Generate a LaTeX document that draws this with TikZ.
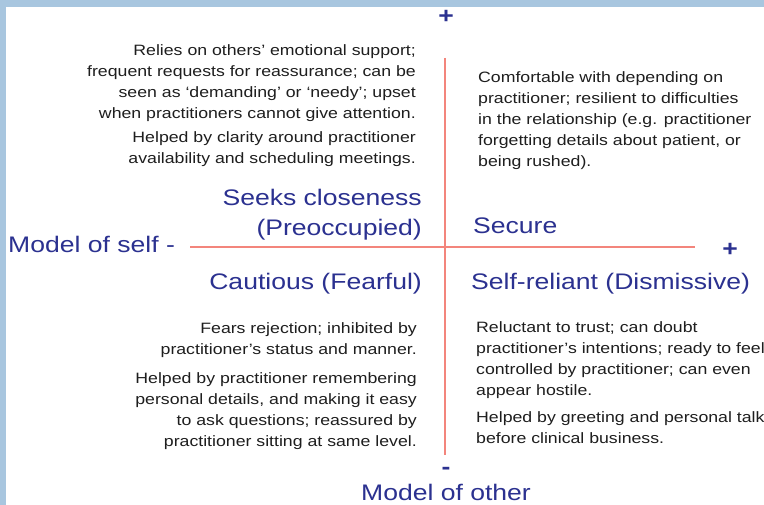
\documentclass[tikz,border=0pt]{standalone}
\usepackage{fontspec}
\setmainfont{Liberation Sans}[FakeStretch=1.18]
\definecolor{frameblue}{HTML}{A8C6DF}
\definecolor{axisred}{HTML}{F3857C}
\definecolor{labelblue}{HTML}{2B3190}
\definecolor{bodygray}{HTML}{1E1E1E}
\begin{document}
\begin{tikzpicture}[x=1pt,y=-1pt,
	quadlabel/.style={font=\fontsize{22.5}{28}\selectfont, text=labelblue, inner sep=0pt},
	signlabel/.style={quadlabel, font=\fontsize{22.5}{28}\selectfont\bfseries},
	bodytext/.style={font=\fontsize{15}{21}\selectfont, text=bodygray, inner sep=0pt},
	axisline/.style={axisred, line width=1.3pt}]
	\useasboundingbox (0,0) rectangle (764,505);
	\fill[white] (0,0) rectangle (764,505);
	\fill[frameblue] (0,0) rectangle (764,7);
	\fill[frameblue] (0,0) rectangle (6,505);
	% axes
	\coordinate (axtop) at (445,58);
	\coordinate (axbottom) at (445,455);
	\coordinate (axleft) at (190,247);
	\coordinate (axright) at (695,247);
	\draw[axisline] (axtop) -- (axbottom);
	\draw[axisline] (axleft) -- (axright);
	% axis labels
	\node[quadlabel, anchor=base west] (selfaxis) at (8,253) {Model of self -};
	\node[signlabel] (selfplus) at (730,250) {+};
	\node[signlabel] (otherplus) at (446,17) {+};
	\node[signlabel] (otherminus) at (446,471) {-};
	\node[quadlabel, anchor=base] (otheraxis) at (446,500) {Model of other};
	% quadrant names
	\node[quadlabel, anchor=base east] (seeks) at (422,206) {Seeks closeness};
	\node[quadlabel, anchor=base east] (preocc) at (422,236) {(Preoccupied)};
	\node[quadlabel, anchor=base west] (secure) at (473,234) {Secure};
	\node[quadlabel, anchor=base east] (fearful) at (422,290) {Cautious (Fearful)};
	\node[quadlabel, anchor=base west] (dismissive) at (471,290) {Self-reliant (Dismissive)};
	% quadrant texts
	\node[bodytext, anchor=north east, align=right] (preocctext) at (416,44) {Relies on others' emotional support;\\ frequent requests for reassurance; can be\\ seen as `demanding' or `needy'; upset\\ when practitioners cannot give attention.\\[3pt] Helped by clarity around practitioner\\ availability and scheduling meetings.};
	\node[bodytext, anchor=north west, align=left] (securetext) at (478,71) {Comfortable with depending on\\ practitioner; resilient to difficulties\\ in the relationship (e.g. practitioner\\ forgetting details about patient, or\\ being rushed).};
	\node[bodytext, anchor=north east, align=right] (fearfultext) at (417,322) {Fears rejection; inhibited by\\ practitioner's status and manner.\\[8pt] Helped by practitioner remembering\\ personal details, and making it easy\\ to ask questions; reassured by\\ practitioner sitting at same level.};
	\node[bodytext, anchor=north west, align=left] (dismissivetext) at (476,321) {Reluctant to trust; can doubt\\ practitioner's intentions; ready to feel\\ controlled by practitioner; can even\\ appear hostile.\\[6pt] Helped by greeting and personal talk\\ before clinical business.};
\end{tikzpicture}
\end{document}
